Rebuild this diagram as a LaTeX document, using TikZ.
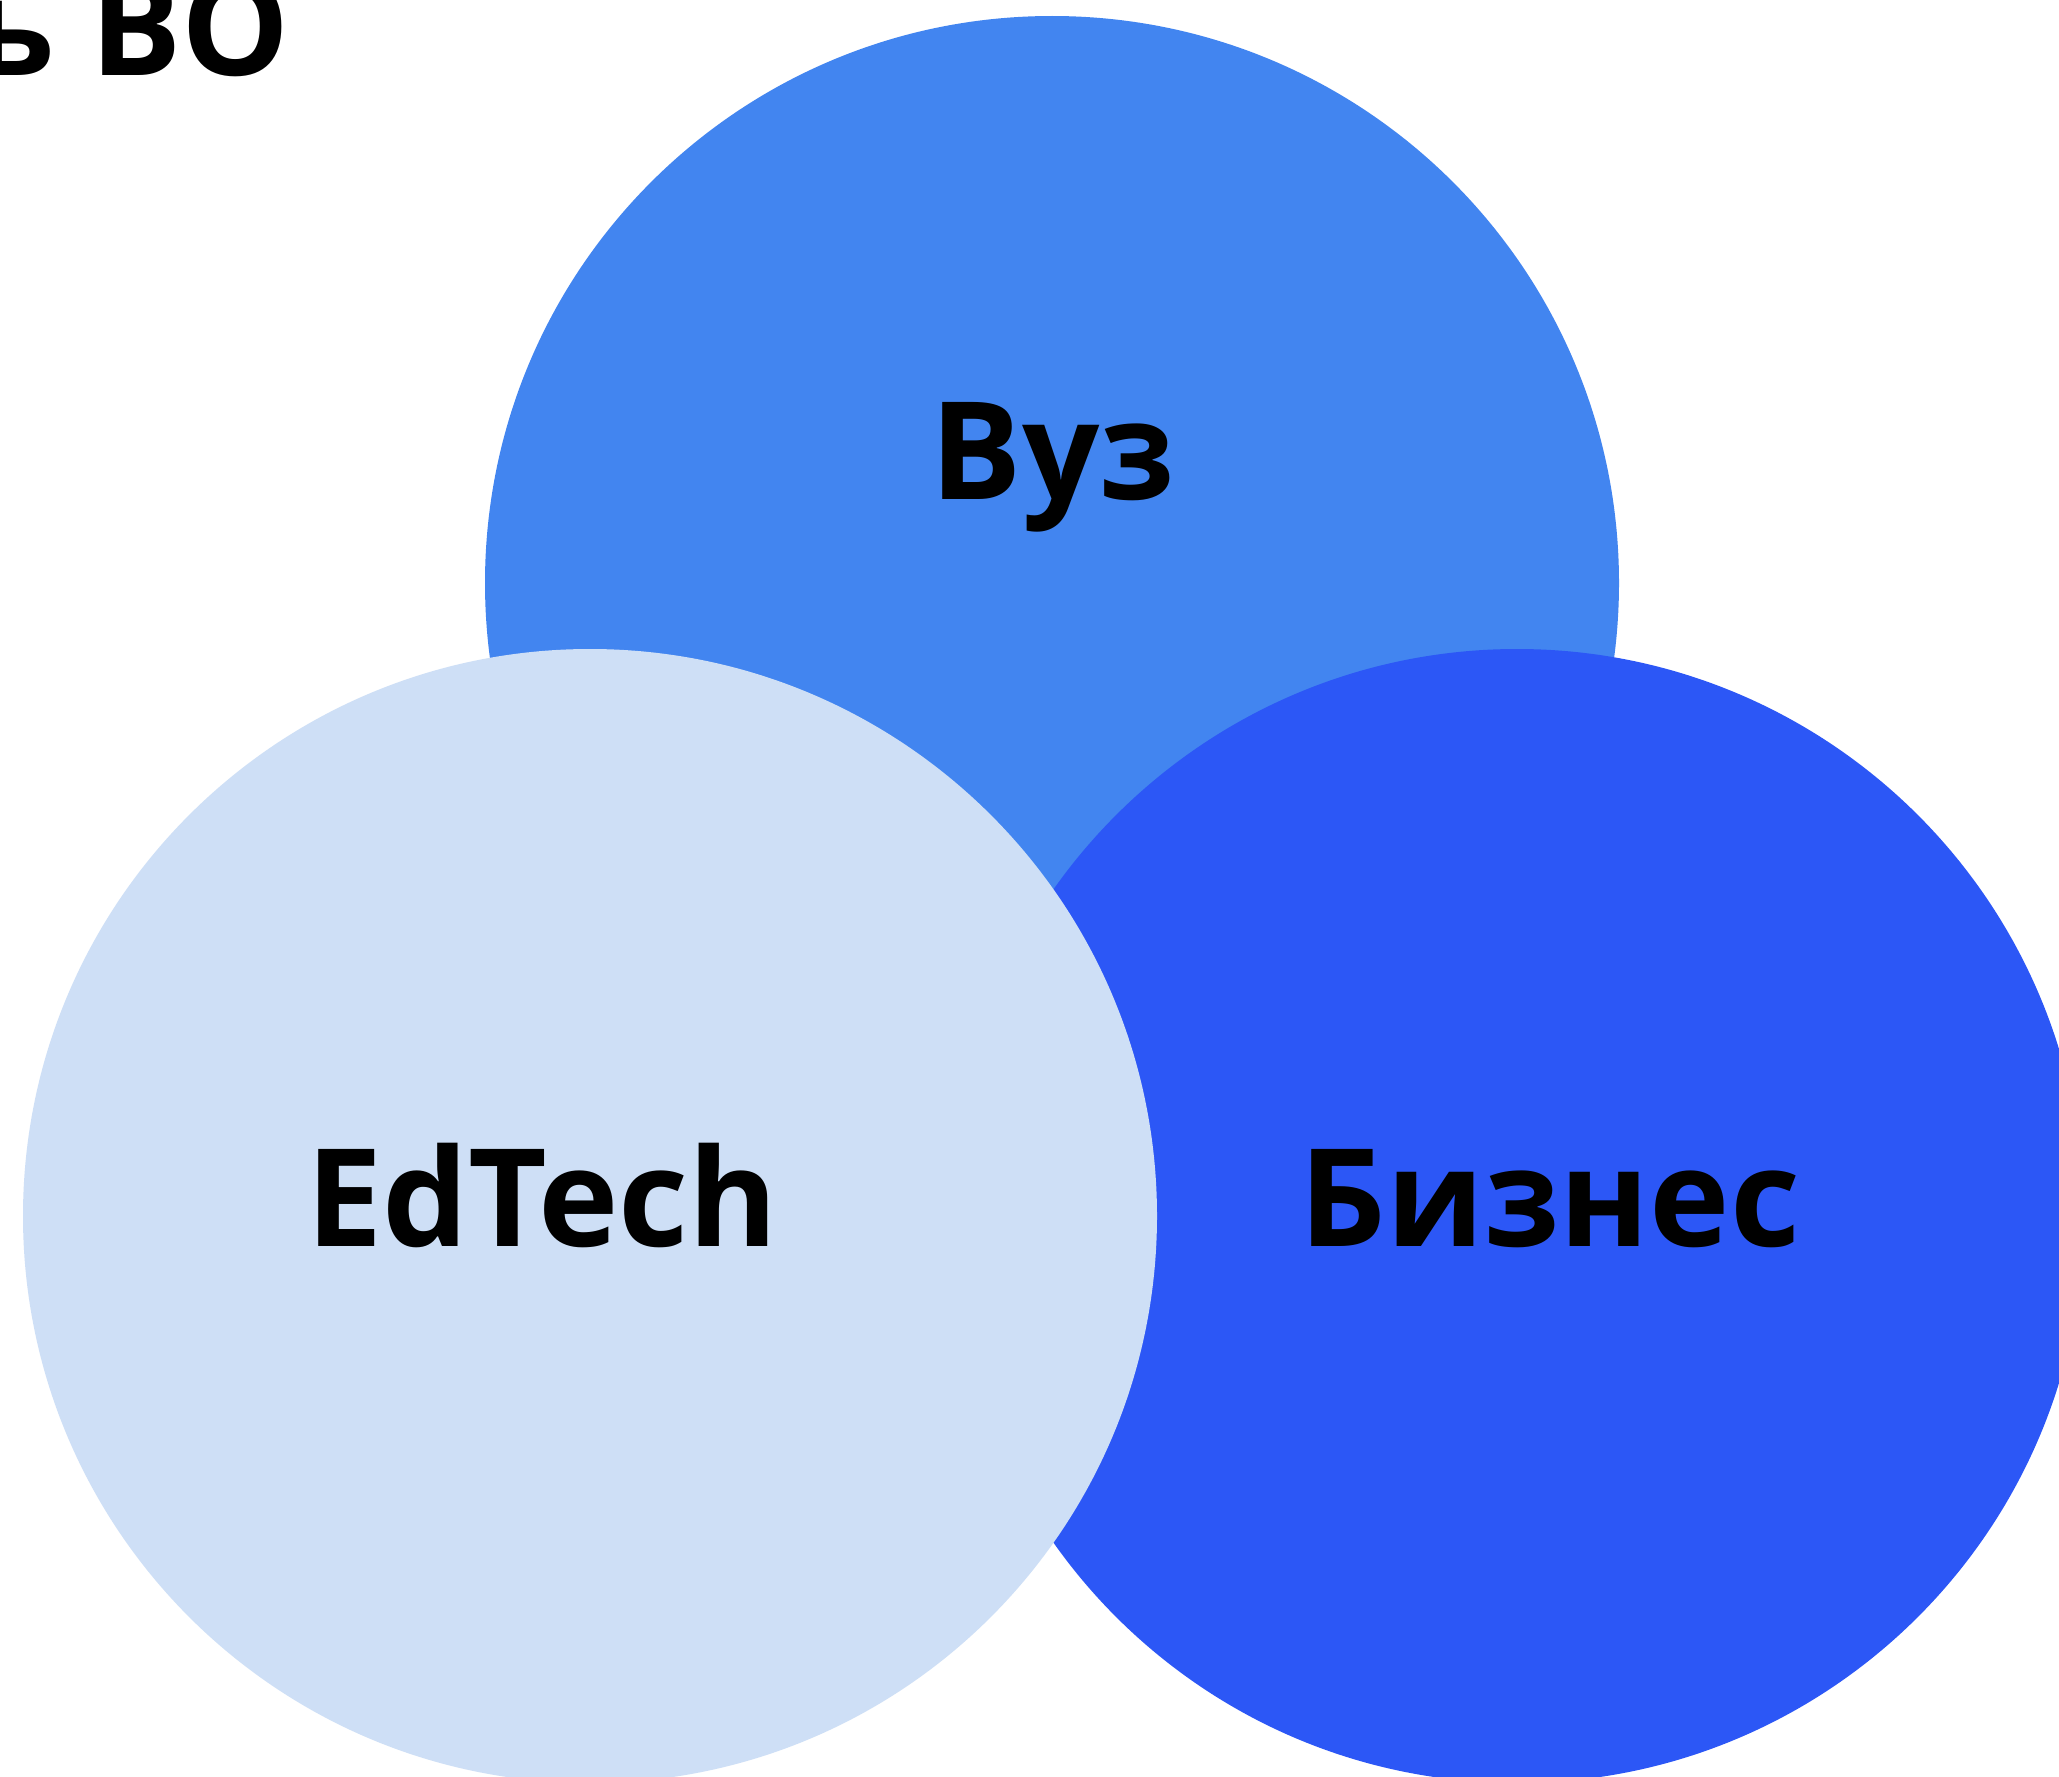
\documentclass[tikz,border=0pt]{standalone}
\usepackage{fontspec}
\setmainfont{Open Sans}
\definecolor{vuzblue}{HTML}{4285F0}
\definecolor{edlight}{HTML}{CEDFF6}
\definecolor{bizblue}{HTML}{2C57F6}
\begin{document}
\begin{tikzpicture}[x=1pt,y=-1pt,
  disc/.style={circle, inner sep=0pt, minimum size=1134pt, draw=none},
  lbl/.style={font=\bfseries\fontsize{136}{150}\selectfont, inner sep=0pt, anchor=base, text=black}]
\useasboundingbox (0,0) rectangle (2059,1777);
\clip (0,0) rectangle (2059,1777);
\fill[white] (0,0) rectangle (2059,1777);
\node[disc, fill=vuzblue] (vuz) at (1052,583) {};
\node[disc, fill=bizblue] (biz) at (1517,1216) {};
\node[disc, fill=edlight] (ed) at (590,1216) {};
\node[lbl] (tvuz) at (1053,499) {Вуз};
\node[lbl] (ted) at (542,1246) {EdTech};
\node[lbl] (tbiz) at (1550,1246) {Бизнес};
\node[lbl, anchor=base east] (ttitle) at (290,75) {ь ВО};
\end{tikzpicture}
\end{document}
